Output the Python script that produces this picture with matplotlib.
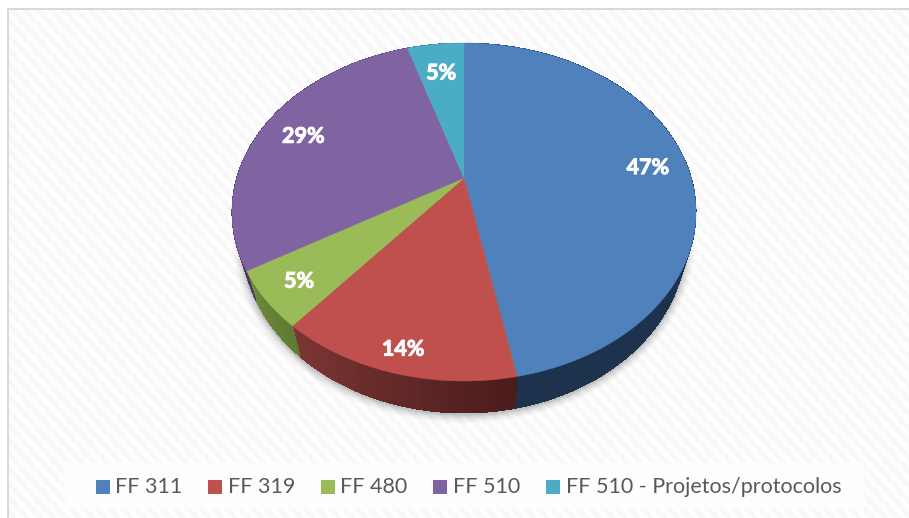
"""Perspective 3D-look pie chart with a bottom legend (FF shares)."""
import numpy as np
import matplotlib
matplotlib.use("Agg")
import matplotlib.pyplot as plt
import matplotlib.patheffects as pe
from matplotlib.patches import Polygon, Rectangle, Ellipse
from matplotlib.colors import to_rgb

# data
labels = ["FF 311", "FF 319", "FF 480", "FF 510", "FF 510 - Projetos/protocolos"]
values = [47, 14, 5.4, 28.8, 4.8]
colors = ["#4F81BD", "#C0504D", "#9BBB59", "#8064A2", "#4BACC6"]
side_left = ["#1D324D", "#7C3634", "#6C8A3C", "#57447A", "#2F7486"]
side_right = ["#1D324D", "#4A1C1B", "#5F7A34", "#4B3A66", "#2F7486"]
label_radius = [0.825, 0.89, 0.85, 0.80, 0.77]

# layout in image pixels
W, H = 909, 518
CX, CY, RY = 464, 212, 169     # top face ellipse
A, B, C, P = 227.3, 169, 34, 0.2012   # perspective of the top face
BOT_CY, BOT_RX, BOT_RY = 240, 222, 173
RX = 232
legend_marker_x = [96, 208, 321, 433, 546]
legend_text_x = [115, 228, 340, 453, 566]


def top_xy(theta, r=1.0):
    """Angle clockwise from 12 o'clock -> pixel on the top face."""
    u, v = r * np.sin(theta), r * np.cos(theta)
    d = 1 + P * v
    return CX + A * u / d, CY - (B * v + C) / d


def bottom_xy(theta):
    x, y = top_xy(theta)
    return CX + (x - CX) * BOT_RX / RX, BOT_CY + (y - CY) * BOT_RY / RY


fig = plt.figure(figsize=(W / 100, H / 100), dpi=100)
ax = fig.add_axes([0, 0, 1, 1])
ax.set_xlim(0, W)
ax.set_ylim(H, 0)
ax.axis("off")

# textured background
yy, xx = np.mgrid[0:H, 0:W]
stripes = ((xx - yy * 0.9) % 13 < 6.5)
bg = np.where(stripes, 0.972, 0.995)
ax.imshow(bg, cmap="gray", vmin=0, vmax=1, extent=(0, W, H, 0), aspect="auto",
          interpolation="bilinear", zorder=0)
ax.set_xlim(0, W)
ax.set_ylim(H, 0)

# frame, only left and top
ax.add_patch(Rectangle((0, 0), W, 8, fc="white", ec="none", zorder=1))
ax.add_patch(Rectangle((0, 0), 7, H, fc="white", ec="none", zorder=1))
ax.add_patch(Rectangle((7, 8), W - 7, 2, fc="#D9D9D9", ec="none", zorder=1))
ax.add_patch(Rectangle((7, 8), 2, H - 8, fc="#D9D9D9", ec="none", zorder=1))

# soft shadow under the pie
for grow, alpha in zip([9, 7, 5, 3, 1.5], [0.025, 0.04, 0.05, 0.06, 0.08]):
    ax.add_patch(Ellipse((CX, BOT_CY + 1), 2 * (BOT_RX + grow), 2 * (BOT_RY + grow),
                         fc="black", ec="none", alpha=alpha, zorder=2))

fractions = np.array(values) / sum(values)
edges = np.concatenate([[0], np.cumsum(fractions)]) * 2 * np.pi

# side wall, cut into thin strips for the gradient
for i in range(len(values)):
    t = np.linspace(edges[i], edges[i + 1], 80)
    c0, c1 = np.array(to_rgb(side_left[i])), np.array(to_rgb(side_right[i]))
    for j in range(len(t) - 1):
        a, b = t[j], t[j + 1]
        pts = [top_xy(a), top_xy(b), bottom_xy(b), bottom_xy(a)]
        # side_left is the colour at the left of the image, angle runs right to left here
        mix = 1 - j / (len(t) - 2)
        ax.add_patch(Polygon(pts, fc=c0 + (c1 - c0) * mix, ec="none", lw=0, zorder=3,
                             antialiased=False))

# top face
for i in range(len(values)):
    t = np.linspace(edges[i], edges[i + 1], 200)
    x, y = top_xy(t)
    pts = np.column_stack([np.r_[top_xy(0, 0)[0], x], np.r_[top_xy(0, 0)[1], y]])
    ax.add_patch(Polygon(pts, fc=colors[i], ec=colors[i], lw=0.3, zorder=4))

# value labels
for i, v in enumerate(values):
    mid = (edges[i] + edges[i + 1]) / 2
    x, y = top_xy(mid, label_radius[i])
    ax.text(x, y + 2, f"{round(v)}%", color="white", fontsize=15.5, fontweight="bold",
            family="Lato", ha="center", va="center", zorder=5,
            path_effects=[pe.withStroke(linewidth=0.7, foreground="white")])

# legend
ax.add_patch(Rectangle((65, 463), 799, 46, fc="white", ec="none", alpha=0.8, zorder=2))
for i, lab in enumerate(labels):
    ax.add_patch(Rectangle((legend_marker_x[i], 480), 14, 14, fc=colors[i], ec="none", zorder=5))
    ax.text(legend_text_x[i], 487, lab, color="#595959", fontsize=15.5, family="Lato",
            ha="left", va="center", zorder=5)

fig.savefig("out.png", dpi=100, facecolor="white")
plt.close(fig)
